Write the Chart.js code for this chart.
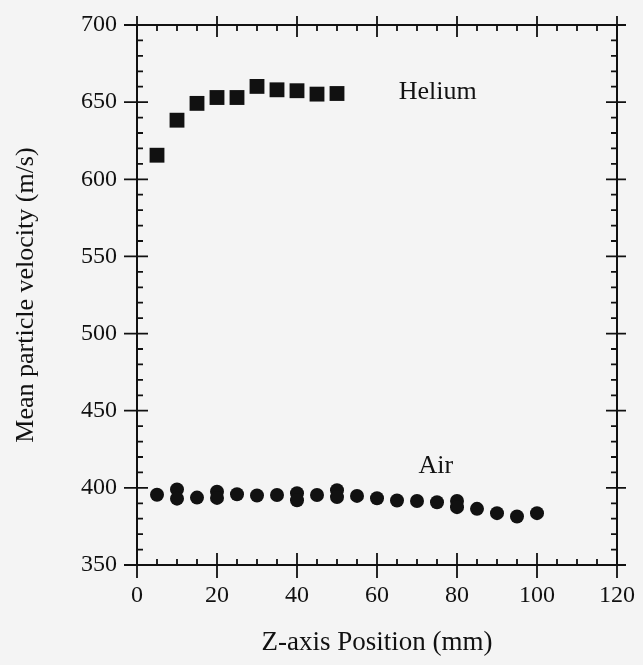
<!DOCTYPE html>
<html><head><meta charset="utf-8">
<script src="https://cdn.jsdelivr.net/npm/chart.js@4"></script>
<style>html,body{margin:0;padding:0;background:#f4f4f4;}#wrap{width:643px;height:665px;}</style>
</head><body><div id="wrap"><canvas id="c" width="643" height="665"></canvas></div>
<script>
const heliumX = [5,10,15,20,25,30,35,40,45,50];
const heliumY = [615.6,638.3,649.2,653,653,660.2,658,657.4,655.2,655.6];
const airX = [5,10,10,15,20,20,25,30,35,40,40,45,50,50,55,60,65,70,75,80,80,85,90,95,100];
const airY = [395.5,399,393,393.7,397.5,393.5,395.9,395,395.4,396.5,392,395.4,398.5,394,394.8,393.3,391.8,391.5,390.7,391.5,387.5,386.4,383.6,381.4,383.6];
const labelTexts = ['Helium','Air'];
const labelX = [75.2, 74.7];
const labelY = [656.5, 414.3];
const xMin=0,xMax=120,xMajor=20,xMinor=5;
const yMin=350,yMax=700,yMajor=50,yMinor=10;

const INK='#111';
const FONT='"Liberation Serif", "DejaVu Serif", serif';

const framePlugin={
  id:'frame',
  beforeDraw(chart){
    const c=chart.ctx;c.save();c.fillStyle='#f4f4f4';c.fillRect(0,0,chart.width,chart.height);c.restore();
  },
  afterDatasetsDraw(chart){
    const c=chart.ctx, a=chart.chartArea, xs=chart.scales.x, ys=chart.scales.y;
    c.save();
    c.strokeStyle=INK;c.lineWidth=2;
    c.strokeRect(a.left,a.top,a.right-a.left,a.bottom-a.top);
    c.lineWidth=1.8;
    c.beginPath();
    for(let v=xMin;v<=xMax+1e-9;v+=xMinor){
      const px=xs.getPixelForValue(v);
      const major=Math.abs(v/xMajor-Math.round(v/xMajor))<1e-9;
      if(major){
        c.moveTo(px,a.bottom+13);c.lineTo(px,a.bottom-12);
        c.moveTo(px,a.top-9);c.lineTo(px,a.top+12);
      }else{
        c.moveTo(px,a.bottom);c.lineTo(px,a.bottom-6);
        c.moveTo(px,a.top);c.lineTo(px,a.top+6);
      }
    }
    for(let v=yMin;v<=yMax+1e-9;v+=yMinor){
      const py=ys.getPixelForValue(v);
      const major=Math.abs(v/yMajor-Math.round(v/yMajor))<1e-9;
      if(major){
        c.moveTo(a.left-13,py);c.lineTo(a.left+11,py);
        c.moveTo(a.right-11,py);c.lineTo(a.right+9,py);
      }else{
        c.moveTo(a.left,py);c.lineTo(a.left+6,py);
        c.moveTo(a.right,py);c.lineTo(a.right-6,py);
      }
    }
    c.stroke();
    c.fillStyle=INK;c.font='26px '+FONT;c.textAlign='center';c.textBaseline='middle';
    for(let i=0;i<labelTexts.length;i++){
      c.fillText(labelTexts[i],xs.getPixelForValue(labelX[i]),ys.getPixelForValue(labelY[i]));
    }
    c.restore();
  }
};

new Chart(document.getElementById('c'),{
  type:'scatter',
  data:{datasets:[
    {label:'Helium',data:heliumX.map((x,i)=>({x,y:heliumY[i]})),pointStyle:'rect',pointRadius:10.5,backgroundColor:INK,borderColor:INK,borderWidth:0},
    {label:'Air',data:airX.map((x,i)=>({x,y:airY[i]})),pointStyle:'circle',pointRadius:7,backgroundColor:INK,borderColor:INK,borderWidth:0}
  ]},
  options:{
    responsive:false,animation:false,devicePixelRatio:1,
    layout:{padding:{left:4,right:26,top:25,bottom:4}},
    plugins:{legend:{display:false},tooltip:{enabled:false}},
    scales:{
      x:{type:'linear',min:xMin,max:xMax,
        grid:{display:false,drawTicks:false},border:{display:false},
        ticks:{stepSize:xMajor,padding:16,color:INK,font:{family:FONT,size:24},maxRotation:0},
        title:{display:true,text:'Z-axis Position (mm)',color:INK,font:{family:FONT,size:27},padding:{top:0,bottom:2}},
        afterFit(s){s.height=96;s.paddingLeft=0;s.paddingRight=0;}
      },
      y:{type:'linear',min:yMin,max:yMax,
        grid:{display:false,drawTicks:false},border:{display:false},
        ticks:{stepSize:yMajor,padding:20,color:INK,font:{family:FONT,size:24}},
        title:{display:true,text:'Mean particle velocity (m/s)',color:INK,font:{family:FONT,size:26},padding:{top:7,bottom:0}},
        afterFit(s){s.width=133;s.paddingTop=0;s.paddingBottom=0;}
      }
    }
  },
  plugins:[framePlugin]
});
</script></body></html>
